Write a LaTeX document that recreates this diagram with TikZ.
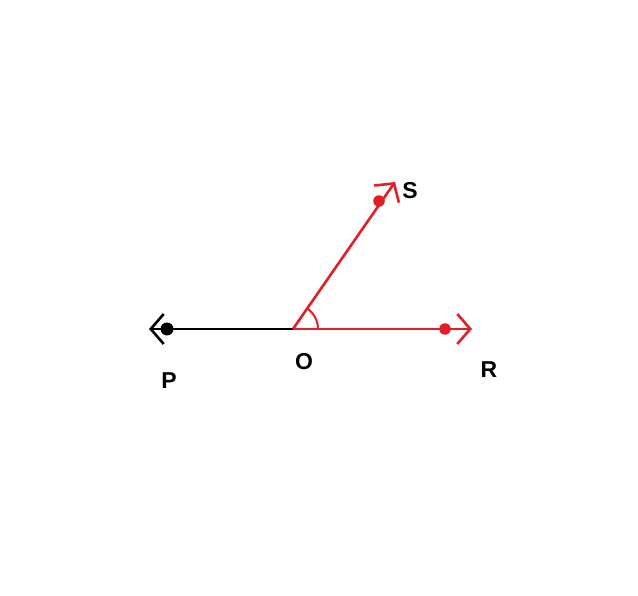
\documentclass[tikz,border=0pt]{standalone}
\usepackage{fontspec}
\setmainfont{Liberation Sans}
\usetikzlibrary{arrows.meta}
\definecolor{myred}{RGB}{226,30,38}
\begin{document}
\begin{tikzpicture}[x=1pt,y=-1pt,
  ray/.style={line width=2.6pt},
  barb/.style={-{Straight Barb[length=13pt,width=30pt,line width=2.6pt]}},
  lbl/.style={font=\fontsize{23}{26}\selectfont\bfseries, inner sep=0pt},
  dotnode/.style={circle, inner sep=0pt, minimum size=13pt}]
\useasboundingbox (0,0) rectangle (638,596);
\fill[white] (0,0) rectangle (638,596);
\coordinate (O) at (293,329);
\coordinate (Ptip) at (149,329);
\coordinate (Rtip) at (472,329);
\coordinate (Stip) at (395,182);
\node[dotnode, fill=black] (P) at (167,329) {};
\node[dotnode, fill=myred, minimum size=11.5pt] (R) at (445,329) {};
\node[dotnode, fill=myred, minimum size=11.5pt] (S) at (379,201) {};
\draw[ray, black, barb] (O) -- (Ptip);
\draw[ray, myred, barb] (O) -- (Rtip);
\draw[ray, myred, barb] (O) -- (Stip);
\draw[myred, line width=2pt] ([shift={(0:25)}]O) arc[start angle=0, end angle=-56, radius=25];
\node[lbl] (lS) at (410,191) {S};
\node[lbl] (lO) at (304,362) {O};
\node[lbl] (lP) at (169,381) {P};
\node[lbl] (lR) at (489,370) {R};
\end{tikzpicture}
\end{document}
